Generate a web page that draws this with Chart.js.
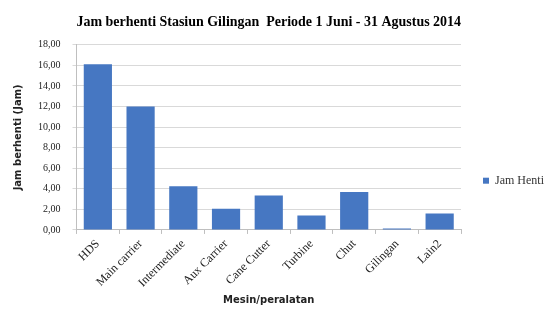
<!DOCTYPE html>
<html>
<head>
<meta charset="utf-8">
<script src="https://cdn.jsdelivr.net/npm/chart.js@4.4.1/dist/chart.umd.min.js"></script>
<style>
  html, body { margin: 0; padding: 0; background: #fff; }
  #wrap { width: 553px; height: 314px; }
</style>
</head>
<body>
<div id="wrap"><canvas id="jamChart"></canvas></div>
<script>
// data
const kategori = ['HDS', 'Main carrier', 'Intermediate', 'Aux Carrier', 'Cane Cutter', 'Turbine', 'Chut', 'Gilingan', 'Lain2'];
const jamHenti = [16.1, 12.0, 4.25, 2.05, 3.35, 1.4, 3.7, 0.15, 1.6];
const yMax = 18;
const yStep = 2;

const serif = "'Liberation Serif', 'DejaVu Serif', serif";
const sans = "'DejaVu Sans', 'Liberation Sans', sans-serif";

const ctx = document.getElementById('jamChart');
new Chart(ctx, {
  type: 'bar',
  data: {
    labels: kategori,
    datasets: [{
      label: 'Jam Henti',
      data: jamHenti,
      backgroundColor: '#4677C2',
      borderWidth: 0,
      barPercentage: 0.66,
      categoryPercentage: 1
    }]
  },
  options: {
    responsive: true,
    maintainAspectRatio: false,
    animation: false,
    layout: { padding: { top: 9, right: -1, bottom: 8, left: 12 } },
    plugins: {
      title: {
        display: true,
        fullSize: false,
        text: 'Jam berhenti Stasiun Gilingan  Periode 1 Juni - 31 Agustus 2014',
        color: '#000',
        font: { family: serif, size: 14, weight: 'bold' },
        padding: { top: 5, bottom: 14 }
      },
      legend: {
        position: 'right',
        title: { display: true, text: ' ', font: { size: 2 }, padding: { top: 0, bottom: 44 } },
        labels: {
          boxWidth: 6,
          boxHeight: 6,
          padding: 22,
          color: '#333',
          font: { family: serif, size: 12 }
        }
      },
      tooltip: { enabled: false }
    },
    scales: {
      x: {
        grid: { display: true, drawOnChartArea: false, tickLength: 4, color: '#bfbfbf' },
        border: { color: '#bfbfbf' },
        ticks: {
          minRotation: 45,
          maxRotation: 45,
          color: '#222',
          font: { family: serif, size: 12 }
        },
        title: {
          display: true,
          text: 'Mesin/peralatan',
          color: '#222',
          font: { family: sans, size: 10, weight: 'bold' },
          padding: { top: 1, bottom: 0 }
        }
      },
      y: {
        min: 0,
        max: yMax,
        ticks: {
          stepSize: yStep,
          color: '#222',
          font: { family: serif, size: 10 },
          padding: 12,
          callback: v => v.toFixed(2).replace('.', ',')
        },
        grid: { color: '#d9d9d9', tickLength: 4 },
        border: { color: '#bfbfbf' },
        title: {
          display: true,
          text: 'Jam berhenti (Jam)',
          color: '#222',
          font: { family: sans, size: 10, weight: 'bold' },
          padding: { top: 0, bottom: 2 }
        }
      }
    }
  }
});
</script>
</body>
</html>
